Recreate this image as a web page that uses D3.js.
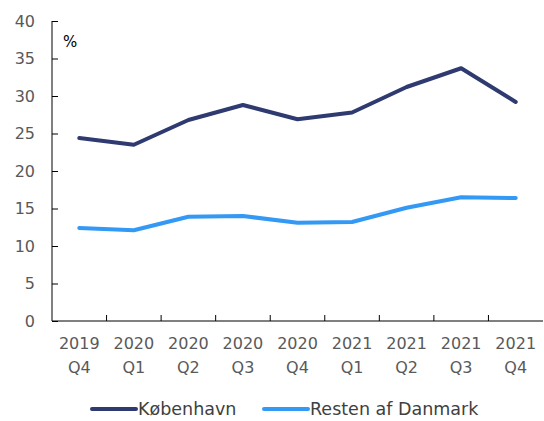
<!DOCTYPE html>
<html>
<head>
<meta charset="utf-8">
<script src="https://cdn.jsdelivr.net/npm/d3@7"></script>
<style>
  body { margin: 0; background: #fff; }
  text { font-family: "DejaVu Sans", sans-serif; }
  .tick text { fill: #595959; font-size: 16px; }
  .legend text { fill: #404040; font-size: 17.5px; }
</style>
</head>
<body>
<div id="chart"></div>
<script>
const quarters = ["2019 Q4", "2020 Q1", "2020 Q2", "2020 Q3", "2020 Q4", "2021 Q1", "2021 Q2", "2021 Q3", "2021 Q4"];
const koebenhavn = [24.4, 23.5, 26.8, 28.8, 26.9, 27.8, 31.2, 33.7, 29.2];
const restenAfDanmark = [12.4, 12.1, 13.9, 14.0, 13.1, 13.2, 15.1, 16.5, 16.4];
const yTicks = [0, 5, 10, 15, 20, 25, 30, 35, 40];

const seriesNames = ["København", "Resten af Danmark"];
const seriesValues = [koebenhavn, restenAfDanmark];
const colors = ["#2e3a70", "#3399f5"];

const width = 544, height = 421;
const margin = {top: 21, right: 1, bottom: 100, left: 52};

const svg = d3.select("#chart").append("svg")
    .attr("width", width)
    .attr("height", height);

const x = d3.scaleBand()
    .domain(quarters)
    .range([margin.left, width - margin.right]);

const y = d3.scaleLinear()
    .domain([0, 40])
    .range([height - margin.bottom, margin.top]);

// y axis
const yAxis = svg.append("g")
    .attr("transform", `translate(${margin.left},0)`)
    .call(d3.axisLeft(y).tickValues(yTicks).tickSizeInner(-6).tickPadding(17));
yAxis.select(".domain").attr("stroke", "#000").attr("d", `M0,${y(40)}V${y(0)}`);
yAxis.selectAll(".tick line").attr("stroke", "#000");

// x axis, labels on two lines
const xAxis = svg.append("g")
    .attr("transform", `translate(0,${y(0)})`)
    .call(d3.axisBottom(x).tickSize(0).tickPadding(0));
xAxis.select(".domain").attr("stroke", "#000").attr("d", `M${margin.left},0H${width - margin.right}`);
xAxis.selectAll(".tick text")
    .attr("dy", null)
    .text(null)
    .each(function(d) {
        const parts = d.split(" ");
        const t = d3.select(this);
        t.append("tspan").attr("x", 0).attr("y", 28).text(parts[0]);
        t.append("tspan").attr("x", 0).attr("y", 52).text(parts[1]);
    });
// tick marks between categories
svg.append("g").selectAll("line")
    .data(quarters.slice(1))
    .enter()
    .append("line")
    .attr("x1", d => x(d))
    .attr("x2", d => x(d))
    .attr("y1", y(0))
    .attr("y2", y(0) - 6)
    .attr("stroke", "#000");

svg.append("text")
    .attr("x", 63)
    .attr("y", 47)
    .attr("font-size", 15)
    .attr("fill", "#000")
    .text("%");

const line = d3.line()
    .x((d, i) => x(quarters[i]) + x.bandwidth() / 2)
    .y(d => y(d));

svg.append("g").selectAll("path")
    .data(seriesValues)
    .enter()
    .append("path")
    .attr("d", d => line(d))
    .attr("fill", "none")
    .attr("stroke", (d, i) => colors[i])
    .attr("stroke-width", 4)
    .attr("stroke-linecap", "round")
    .attr("stroke-linejoin", "round");

// legend
const legendX = [92, 264];
const legend = svg.append("g").attr("class", "legend")
    .selectAll("g")
    .data(seriesNames)
    .enter()
    .append("g")
    .attr("transform", (d, i) => `translate(${legendX[i]},409)`);
legend.append("line")
    .attr("x1", 0).attr("x2", 44)
    .attr("stroke", (d, i) => colors[i])
    .attr("stroke-width", 4)
    .attr("stroke-linecap", "round");
legend.append("text")
    .attr("x", 46)
    .attr("dy", "0.35em")
    .text(d => d);
</script>
</body>
</html>
